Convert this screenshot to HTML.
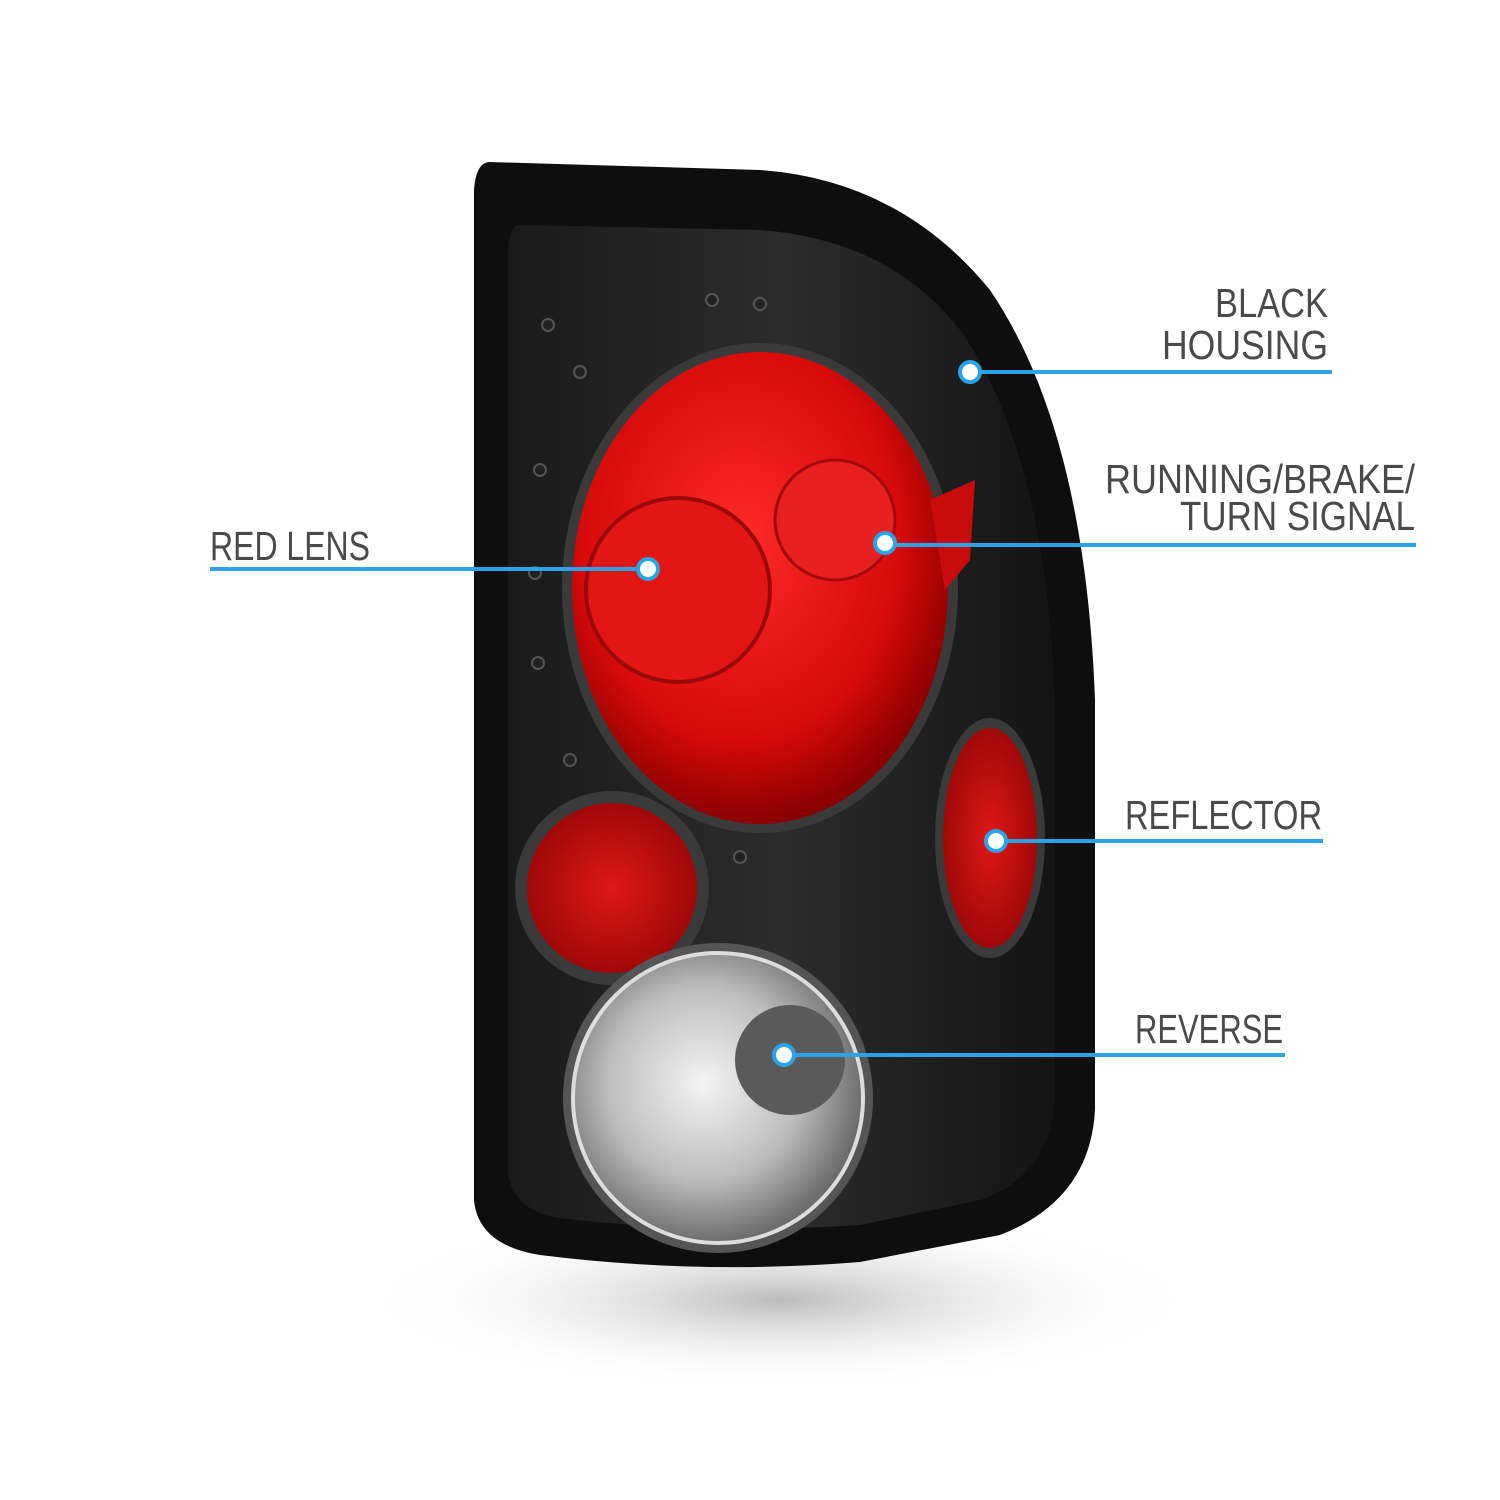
<!DOCTYPE html>
<html><head><meta charset="utf-8"><style>html,body{margin:0;padding:0;background:#fff}svg{display:block}</style></head>
<body>
<svg width="1500" height="1500" viewBox="0 0 1500 1500" xmlns="http://www.w3.org/2000/svg">
<defs>
<radialGradient id="shadow" cx="0.5" cy="0.5" r="0.5"><stop offset="0" stop-color="#bbb"/><stop offset="1" stop-color="#fff" stop-opacity="0"/></radialGradient>
<radialGradient id="red" cx="0.45" cy="0.4" r="0.6"><stop offset="0" stop-color="#ff2a2a"/><stop offset="0.7" stop-color="#d80a0a"/><stop offset="1" stop-color="#8a0000"/></radialGradient>
<radialGradient id="refl" cx="0.5" cy="0.5" r="0.5"><stop offset="0" stop-color="#e01818"/><stop offset="1" stop-color="#a00808"/></radialGradient>
<radialGradient id="chrome" cx="0.45" cy="0.45" r="0.55"><stop offset="0" stop-color="#f4f4f4"/><stop offset="0.6" stop-color="#bdbdbd"/><stop offset="1" stop-color="#6d6d6d"/></radialGradient>
<linearGradient id="body" x1="0" y1="0" x2="1" y2="0"><stop offset="0" stop-color="#1a1a1a"/><stop offset="0.5" stop-color="#2c2c2c"/><stop offset="1" stop-color="#141414"/></linearGradient>
</defs>
<ellipse cx="780" cy="1300" rx="420" ry="90" fill="url(#shadow)"/>
<!-- housing -->
<path d="M490 162 L760 170 Q900 180 990 290 Q1085 430 1095 700 L1095 1110 Q1090 1200 1000 1235 L860 1262 Q700 1275 540 1255 Q478 1245 474 1200 L474 190 Q476 162 490 162 Z" fill="#0e0e0e"/>
<path d="M520 225 L760 230 Q890 240 960 330 Q1045 450 1055 700 L1055 1100 Q1050 1175 980 1200 L860 1225 Q700 1235 560 1218 Q510 1210 508 1170 L508 250 Q510 225 520 225 Z" fill="url(#body)"/>
<!-- red lens bezel -->
<ellipse cx="760" cy="588" rx="198" ry="245" fill="#3a3a3a"/>
<ellipse cx="760" cy="588" rx="188" ry="236" fill="url(#red)"/>
<circle cx="678" cy="590" r="92" fill="#e31515" stroke="#9a0808" stroke-width="4"/>
<circle cx="835" cy="520" r="60" fill="#e82020" stroke="#a00a0a" stroke-width="3"/>
<path d="M930 500 L975 480 L970 560 L945 590 Z" fill="#c80c0c"/>
<!-- screws -->
<g fill="#222" stroke="#555" stroke-width="2">
<circle cx="495" cy="318" r="0"/><circle cx="548" cy="325" r="6"/><circle cx="580" cy="372" r="6"/><circle cx="540" cy="470" r="6"/><circle cx="535" cy="573" r="6"/><circle cx="538" cy="663" r="6"/><circle cx="570" cy="760" r="6"/><circle cx="740" cy="857" r="6"/><circle cx="712" cy="300" r="6"/><circle cx="760" cy="304" r="6"/>
</g>
<!-- left reflector -->
<circle cx="612" cy="888" r="97" fill="#3a3a3a"/>
<circle cx="612" cy="888" r="85" fill="url(#refl)"/>
<!-- right reflector -->
<ellipse cx="990" cy="838" rx="55" ry="120" fill="#3a3a3a"/>
<ellipse cx="990" cy="838" rx="47" ry="110" fill="url(#refl)"/>
<!-- reverse -->
<circle cx="718" cy="1098" r="155" fill="#555"/>
<circle cx="718" cy="1098" r="145" fill="url(#chrome)" stroke="#ddd" stroke-width="4"/>
<circle cx="790" cy="1060" r="55" fill="#5a5a5a"/>
<!-- callouts -->
<g stroke="#2aa3e8" stroke-width="4" fill="none">
<line x1="970" y1="372" x2="1332" y2="372"/>
<line x1="885" y1="545" x2="1416" y2="545"/>
<line x1="210" y1="569" x2="648" y2="569"/>
<line x1="996" y1="841" x2="1323" y2="841"/>
<line x1="784" y1="1055" x2="1285" y2="1055"/>
</g>
<g fill="#fff" stroke="#2aa3e8" stroke-width="4">
<circle cx="970" cy="372" r="10"/><circle cx="885" cy="543" r="10"/><circle cx="648" cy="569" r="10"/><circle cx="996" cy="841" r="10"/><circle cx="784" cy="1055" r="10"/>
</g>
<g fill="#4a4a4a" font-family="Liberation Sans, sans-serif" font-size="41">
<text x="1215" y="317" textLength="113" lengthAdjust="spacingAndGlyphs">BLACK</text>
<text x="1162" y="359" textLength="166" lengthAdjust="spacingAndGlyphs">HOUSING</text>
<text x="1105" y="493" textLength="310" lengthAdjust="spacingAndGlyphs">RUNNING/BRAKE/</text>
<text x="1180" y="530" textLength="235" lengthAdjust="spacingAndGlyphs">TURN SIGNAL</text>
<text x="210" y="560" textLength="160" lengthAdjust="spacingAndGlyphs">RED LENS</text>
<text x="1125" y="829" textLength="197" lengthAdjust="spacingAndGlyphs">REFLECTOR</text>
<text x="1135" y="1043" textLength="148" lengthAdjust="spacingAndGlyphs">REVERSE</text>
</g>
</svg>
</body></html>
